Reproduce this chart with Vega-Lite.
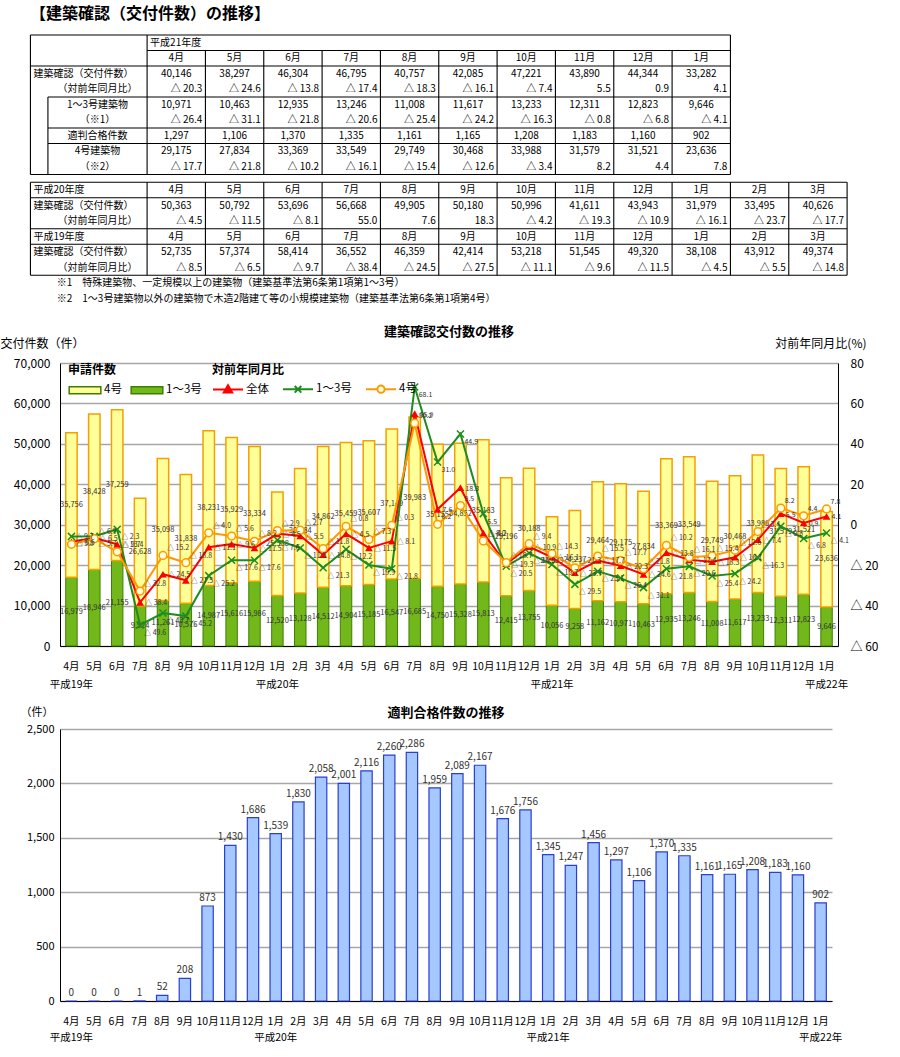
{
"$schema": "https://vega.github.io/schema/vega-lite/v6.json",
"background": "white",
"padding": {"left": 0, "top": 6, "right": 5, "bottom": 5},
"spacing": 16,
"resolve": {"scale": {"fill": "independent", "color": "independent"}, "legend": {"fill": "independent", "color": "independent"}},
"config": {"font": "Noto Sans CJK JP", "view": {"stroke": null}, "title": {"color": "black"}},
"datasets": {
"m": [
{"ym":"2007-04","total":52735,"v13":16979,"v4":35756,"全体":-8.5,"1～3号":-5.8,"4号":-9.7,"tek":0},
{"ym":"2007-05","total":57374,"v13":18946,"v4":38428,"全体":-6.5,"1～3号":-5.7,"4号":-6.9,"tek":0},
{"ym":"2007-06","total":58414,"v13":21155,"v4":37259,"全体":-9.7,"1～3号":-2.3,"4号":-13.4,"tek":0},
{"ym":"2007-07","total":36552,"v13":9924,"v4":26628,"全体":-38.4,"1～3号":-49.6,"4号":-32.8,"tek":1},
{"ym":"2007-08","total":46359,"v13":11261,"v4":35098,"全体":-24.5,"1～3号":-43.7,"4号":-15.2,"tek":52},
{"ym":"2007-09","total":42414,"v13":10576,"v4":31838,"全体":-27.5,"1～3号":-45.2,"4号":-18.8,"tek":208},
{"ym":"2007-10","total":53218,"v13":14987,"v4":38231,"全体":-11.1,"1～3号":-25.2,"4号":-4.0,"tek":873},
{"ym":"2007-11","total":51545,"v13":15616,"v4":35929,"全体":-9.6,"1～3号":-17.6,"4号":-5.6,"tek":1430},
{"ym":"2007-12","total":49320,"v13":15986,"v4":33334,"全体":-11.5,"1～3号":-17.6,"4号":-8.2,"tek":1686},
{"ym":"2008-01","total":38108,"v13":12520,"v4":25588,"全体":-4.5,"1～3号":-7.6,"4号":-2.9,"tek":1539},
{"ym":"2008-02","total":43912,"v13":13128,"v4":30784,"全体":-5.5,"1～3号":-11.5,"4号":-2.7,"tek":1830},
{"ym":"2008-03","total":49374,"v13":14512,"v4":34862,"全体":-14.8,"1～3号":-21.3,"4号":-11.8,"tek":2058},
{"ym":"2008-04","total":50363,"v13":14904,"v4":35459,"全体":-4.5,"1～3号":-12.2,"4号":-0.8,"tek":2001},
{"ym":"2008-05","total":50792,"v13":15185,"v4":35607,"全体":-11.5,"1～3号":-19.9,"4号":-7.3,"tek":2116},
{"ym":"2008-06","total":53696,"v13":16547,"v4":37149,"全体":-8.1,"1～3号":-21.8,"4号":-0.3,"tek":2260},
{"ym":"2008-07","total":56668,"v13":16685,"v4":39983,"全体":55.0,"1～3号":68.1,"4号":50.2,"tek":2286},
{"ym":"2008-08","total":49905,"v13":14750,"v4":35155,"全体":7.6,"1～3号":31.0,"4号":0.2,"tek":1959},
{"ym":"2008-09","total":50180,"v13":15328,"v4":34852,"全体":18.3,"1～3号":44.9,"4号":9.5,"tek":2089},
{"ym":"2008-10","total":50996,"v13":15813,"v4":35183,"全体":-4.2,"1～3号":5.5,"4号":-8.0,"tek":2167},
{"ym":"2008-11","total":41611,"v13":12415,"v4":29196,"全体":-19.3,"1～3号":-20.5,"4号":-18.7,"tek":1676},
{"ym":"2008-12","total":43943,"v13":13755,"v4":30188,"全体":-10.9,"1～3号":-14.0,"4号":-9.4,"tek":1756},
{"ym":"2009-01","total":31979,"v13":10056,"v4":21923,"全体":-16.1,"1～3号":-19.7,"4号":-14.3,"tek":1345},
{"ym":"2009-02","total":33495,"v13":9258,"v4":24237,"全体":-23.7,"1～3号":-29.5,"4号":-21.3,"tek":1247},
{"ym":"2009-03","total":40626,"v13":11162,"v4":29464,"全体":-17.7,"1～3号":-23.1,"4号":-15.5,"tek":1456},
{"ym":"2009-04","total":40146,"v13":10971,"v4":29175,"全体":-20.3,"1～3号":-26.4,"4号":-17.7,"tek":1297},
{"ym":"2009-05","total":38297,"v13":10463,"v4":27834,"全体":-24.6,"1～3号":-31.1,"4号":-21.8,"tek":1106},
{"ym":"2009-06","total":46304,"v13":12935,"v4":33369,"全体":-13.8,"1～3号":-21.8,"4号":-10.2,"tek":1370},
{"ym":"2009-07","total":46795,"v13":13246,"v4":33549,"全体":-17.4,"1～3号":-20.6,"4号":-16.1,"tek":1335},
{"ym":"2009-08","total":40757,"v13":11008,"v4":29749,"全体":-18.3,"1～3号":-25.4,"4号":-15.4,"tek":1161},
{"ym":"2009-09","total":42085,"v13":11617,"v4":30468,"全体":-16.1,"1～3号":-24.2,"4号":-12.6,"tek":1165},
{"ym":"2009-10","total":47221,"v13":13233,"v4":33988,"全体":-7.4,"1～3号":-16.3,"4号":-3.4,"tek":1208},
{"ym":"2009-11","total":43890,"v13":12311,"v4":31579,"全体":5.5,"1～3号":-0.8,"4号":8.2,"tek":1183},
{"ym":"2009-12","total":44344,"v13":12823,"v4":31521,"全体":0.9,"1～3号":-6.8,"4号":4.4,"tek":1160},
{"ym":"2010-01","total":33282,"v13":9646,"v4":23636,"全体":4.1,"1～3号":-4.1,"4号":7.8,"tek":902}
],
"cells": [
{"t":1,"line":0,"kind":"head","v":["平成21年度"]},
{"t":1,"line":1,"kind":"val","v":["4月","5月","6月","7月","8月","9月","10月","11月","12月","1月"]},
{"t":1,"line":2,"kind":"lab","v":["建築確認（交付件数）"]},
{"t":1,"line":2,"kind":"val","v":["40,146","38,297","46,304","46,795","40,757","42,085","47,221","43,890","44,344","33,282"]},
{"t":1,"line":3,"kind":"sub","v":["（対前年同月比）"]},
{"t":1,"line":3,"kind":"yoy","v":["△ 20.3","△ 24.6","△ 13.8","△ 17.4","△ 18.3","△ 16.1","△ 7.4","5.5","0.9","4.1"]},
{"t":1,"line":4,"kind":"sub","v":["1～3号建築物"]},
{"t":1,"line":4,"kind":"val","v":["10,971","10,463","12,935","13,246","11,008","11,617","13,233","12,311","12,823","9,646"]},
{"t":1,"line":5,"kind":"sub","v":["（※1）"]},
{"t":1,"line":5,"kind":"yoy","v":["△ 26.4","△ 31.1","△ 21.8","△ 20.6","△ 25.4","△ 24.2","△ 16.3","△ 0.8","△ 6.8","△ 4.1"]},
{"t":1,"line":6,"kind":"sub","v":["適判合格件数"]},
{"t":1,"line":6,"kind":"val","v":["1,297","1,106","1,370","1,335","1,161","1,165","1,208","1,183","1,160","902"]},
{"t":1,"line":7,"kind":"sub","v":["4号建築物"]},
{"t":1,"line":7,"kind":"val","v":["29,175","27,834","33,369","33,549","29,749","30,468","33,988","31,579","31,521","23,636"]},
{"t":1,"line":8,"kind":"sub","v":["（※2）"]},
{"t":1,"line":8,"kind":"yoy","v":["△ 17.7","△ 21.8","△ 10.2","△ 16.1","△ 15.4","△ 12.6","△ 3.4","8.2","4.4","7.8"]},
{"t":2,"line":0,"kind":"lab","v":["平成20年度"]},
{"t":2,"line":0,"kind":"val","v":["4月","5月","6月","7月","8月","9月","10月","11月","12月","1月","2月","3月"]},
{"t":2,"line":1,"kind":"lab","v":["建築確認（交付件数）"]},
{"t":2,"line":1,"kind":"val","v":["50,363","50,792","53,696","56,668","49,905","50,180","50,996","41,611","43,943","31,979","33,495","40,626"]},
{"t":2,"line":2,"kind":"sub","v":["（対前年同月比）"]},
{"t":2,"line":2,"kind":"yoy","v":["△ 4.5","△ 11.5","△ 8.1","55.0","7.6","18.3","△ 4.2","△ 19.3","△ 10.9","△ 16.1","△ 23.7","△ 17.7"]},
{"t":2,"line":3,"kind":"lab","v":["平成19年度"]},
{"t":2,"line":3,"kind":"val","v":["4月","5月","6月","7月","8月","9月","10月","11月","12月","1月","2月","3月"]},
{"t":2,"line":4,"kind":"lab","v":["建築確認（交付件数）"]},
{"t":2,"line":4,"kind":"val","v":["52,735","57,374","58,414","36,552","46,359","42,414","53,218","51,545","49,320","38,108","43,912","49,374"]},
{"t":2,"line":5,"kind":"sub","v":["（対前年同月比）"]},
{"t":2,"line":5,"kind":"yoy","v":["△ 8.5","△ 6.5","△ 9.7","△ 38.4","△ 24.5","△ 27.5","△ 11.1","△ 9.6","△ 11.5","△ 4.5","△ 5.5","△ 14.8"]},
{"t":2,"line":6,"kind":"note","v":["※1　特殊建築物、一定規模以上の建築物（建築基準法第6条第1項第1～3号）"]},
{"t":2,"line":7,"kind":"note","v":["※2　1～3号建築物以外の建築物で木造2階建て等の小規模建築物（建築基準法第6条第1項第4号）"]}
],
"rules": [
{"t":1,"x":-2,"x2":10,"y":0,"y2":0},
{"t":1,"x":0,"x2":10,"y":1,"y2":1},
{"t":1,"x":-2,"x2":10,"y":2,"y2":2},
{"t":1,"x":-1.7,"x2":10,"y":4,"y2":4},
{"t":1,"x":-1.7,"x2":10,"y":6,"y2":6},
{"t":1,"x":-1.7,"x2":10,"y":7,"y2":7},
{"t":1,"x":-2,"x2":10,"y":9,"y2":9},
{"t":1,"x":-2,"x2":-2,"y":0,"y2":9},
{"t":1,"x":0,"x2":0,"y":0,"y2":9},
{"t":1,"x":-1.7,"x2":-1.7,"y":4,"y2":9},
{"t":1,"x":1,"x2":1,"y":1,"y2":9},
{"t":1,"x":2,"x2":2,"y":1,"y2":9},
{"t":1,"x":3,"x2":3,"y":1,"y2":9},
{"t":1,"x":4,"x2":4,"y":1,"y2":9},
{"t":1,"x":5,"x2":5,"y":1,"y2":9},
{"t":1,"x":6,"x2":6,"y":1,"y2":9},
{"t":1,"x":7,"x2":7,"y":1,"y2":9},
{"t":1,"x":8,"x2":8,"y":1,"y2":9},
{"t":1,"x":9,"x2":9,"y":1,"y2":9},
{"t":1,"x":10,"x2":10,"y":0,"y2":9},
{"t":2,"x":-2,"x2":12,"y":0,"y2":0},
{"t":2,"x":-2,"x2":12,"y":1,"y2":1},
{"t":2,"x":-2,"x2":12,"y":3,"y2":3},
{"t":2,"x":-2,"x2":12,"y":4,"y2":4},
{"t":2,"x":-2,"x2":12,"y":6,"y2":6},
{"t":2,"x":-2,"x2":-2,"y":0,"y2":6},
{"t":2,"x":0,"x2":0,"y":0,"y2":6},
{"t":2,"x":1,"x2":1,"y":0,"y2":6},
{"t":2,"x":2,"x2":2,"y":0,"y2":6},
{"t":2,"x":3,"x2":3,"y":0,"y2":6},
{"t":2,"x":4,"x2":4,"y":0,"y2":6},
{"t":2,"x":5,"x2":5,"y":0,"y2":6},
{"t":2,"x":6,"x2":6,"y":0,"y2":6},
{"t":2,"x":7,"x2":7,"y":0,"y2":6},
{"t":2,"x":8,"x2":8,"y":0,"y2":6},
{"t":2,"x":9,"x2":9,"y":0,"y2":6},
{"t":2,"x":10,"x2":10,"y":0,"y2":6},
{"t":2,"x":11,"x2":11,"y":0,"y2":6},
{"t":2,"x":12,"x2":12,"y":0,"y2":6}
]
},
"vconcat": [
{
"width": 787.1, "height": 274.35,
"title": {"text": "【建築確認（交付件数）の推移】", "anchor": "start", "frame": "group", "dx": -30, "fontSize": 16, "fontWeight": "bold", "offset": 12},
"encoding": {
"x": {"field": "xx", "type": "quantitative", "scale": {"domain": [-1.493, 12], "nice": false, "zero": false}, "axis": null},
"y": {"field": "yy", "type": "quantitative", "scale": {"domain": [0, 17.7], "nice": false, "zero": false, "reverse": true}, "axis": null}
},
"layer": [
{
"data": {"name": "rules"},
"transform": [
{"calculate": "datum.x", "as": "xx"},
{"calculate": "datum.x2", "as": "xx2"},
{"calculate": "datum.y + (datum.t == 2 ? 9.5 : 0)", "as": "yy"},
{"calculate": "datum.y2 + (datum.t == 2 ? 9.5 : 0)", "as": "yy2"}
],
"mark": {"type": "rule", "color": "black", "strokeWidth": 1.1},
"encoding": {"x2": {"field": "xx2"}, "y2": {"field": "yy2"}}
},
{
"data": {"name": "cells"},
"transform": [
{"flatten": ["v"], "as": ["txt"]},
{"window": [{"op": "row_number", "as": "n"}], "groupby": ["t", "line", "kind"]},
{"calculate": "datum.line + 0.5 + (datum.t == 2 ? 9.5 : 0)", "as": "yy"},
{"calculate": "datum.kind == 'val' ? datum.n - 0.5 : datum.kind == 'yoy' ? datum.n : datum.kind == 'head' ? 0 : datum.kind == 'lab' ? -2 : datum.kind == 'sub' ? -0.85 : -1.6", "as": "xx"}
],
"layer": [
{"transform": [{"filter": "datum.kind == 'val' || datum.kind == 'sub'"}],
 "mark": {"type": "text", "align": "center", "baseline": "middle", "fontSize": 10, "color": "black"},
 "encoding": {"text": {"field": "txt"}}},
{"transform": [{"filter": "datum.kind == 'yoy'"}],
 "mark": {"type": "text", "align": "right", "baseline": "middle", "dx": -3, "fontSize": 10, "color": "black"},
 "encoding": {"text": {"field": "txt"}}},
{"transform": [{"filter": "datum.kind == 'head' || datum.kind == 'lab' || datum.kind == 'note'"}],
 "mark": {"type": "text", "align": "left", "baseline": "middle", "dx": 3, "fontSize": 10, "color": "black"},
 "encoding": {"text": {"field": "txt"}}}
]
}
]
},
{
"width": 778, "height": 283,
"title": {"text": "建築確認交付数の推移", "fontSize": 13, "fontWeight": "bold", "offset": -2},
"data": {"name": "m"},
"layer": [
{
"layer": [
{"mark": {"type": "bar", "width": {"band": 0.5}, "stroke": "#3F7F00", "strokeWidth": 1},
 "encoding": {
 "x": {"field": "ym", "type": "ordinal", "title": null, "scale": {"paddingInner": 0, "paddingOuter": 0},
   "axis": {"labelAngle": 0, "ticks": false, "labelPadding": 15, "labelFontSize": 10.5, "labelLineHeight": 18, "labelColor": "black", "domainColor": "black", "labelOverlap": false,
   "labelExpr": "[toNumber(slice(datum.value,5)) + '月', datum.value == '2007-04' ? '平成19年' : slice(datum.value,5) == '01' ? '平成' + (toNumber(slice(datum.value,0,4)) - 1988) + '年' : '']"}},
 "y": {"field": "v13", "type": "quantitative", "title": "交付件数（件）", "scale": {"domain": [0, 70000], "nice": false},
   "axis": {"values": [0,10000,20000,30000,40000,50000,60000,70000], "labelExpr": "format(datum.value, ',d')", "grid": true, "gridColor": "#A6A6A6", "gridWidth": 1.5, "domainColor": "black", "ticks": false, "labelPadding": 10, "labelFontSize": 12, "labelColor": "black",
   "titleAngle": 0, "titleAlign": "left", "titleBaseline": "middle", "titleX": -60, "titleY": -20, "titleFontSize": 12, "titleFontWeight": "normal", "titleColor": "black"}},
 "fill": {"datum": "1～3号", "type": "nominal", "scale": {"domain": ["4号", "1～3号"], "range": ["#FFFF99", "#72B81A"]},
   "legend": {"title": "申請件数", "orient": "none", "legendX": 8, "legendY": 2, "direction": "horizontal", "symbolType": "M-1,-0.22H1V0.22H-1Z", "symbolSize": 1000, "symbolStrokeWidth": 1.5, "labelFontSize": 11.5, "labelColor": "black", "titleFontSize": 12, "titleFontWeight": "bold", "titleColor": "black", "titlePadding": -4, "columnPadding": 6, "labelOffset": 2,
   "encode": {"symbols": {"update": {"stroke": {"signal": "datum.value === '4号' ? '#F5A000' : '#3F7F00'"}}}}}}
 }},
{"mark": {"type": "bar", "width": {"band": 0.5}, "stroke": "#F5A000", "strokeWidth": 1.5},
 "encoding": {
 "x": {"field": "ym", "type": "ordinal", "title": null, "scale": {"paddingInner": 0, "paddingOuter": 0}},
 "y": {"field": "v13", "type": "quantitative", "title": "交付件数（件）", "scale": {"domain": [0, 70000], "nice": false}},
 "y2": {"field": "total"},
 "fill": {"datum": "4号", "type": "nominal", "scale": {"domain": ["4号", "1～3号"], "range": ["#FFFF99", "#72B81A"]}}
 }},
{"transform": [{"calculate": "datum.v13 + datum.v4 / 2", "as": "m4"}],
 "mark": {"type": "text", "fontSize": 7.5, "color": "#333333"},
 "encoding": {
 "x": {"field": "ym", "type": "ordinal", "title": null, "scale": {"paddingInner": 0, "paddingOuter": 0}},
 "y": {"field": "m4", "type": "quantitative", "title": "交付件数（件）", "scale": {"domain": [0, 70000], "nice": false}},
 "text": {"field": "v4", "format": ","}
 }},
{"transform": [{"calculate": "datum.v13 / 2", "as": "m13"}],
 "mark": {"type": "text", "fontSize": 7.5, "color": "#333333"},
 "encoding": {
 "x": {"field": "ym", "type": "ordinal", "title": null, "scale": {"paddingInner": 0, "paddingOuter": 0}},
 "y": {"field": "m13", "type": "quantitative", "title": "交付件数（件）", "scale": {"domain": [0, 70000], "nice": false}},
 "text": {"field": "v13", "format": ","}
 }}
]
},
{
"transform": [
{"fold": ["全体", "1～3号", "4号"], "as": ["ser", "yoy"]},
{"calculate": "datum.yoy < 0 ? '△ ' + format(-datum.yoy, '.1f') : format(datum.yoy, '.1f')", "as": "lbl"}
],
"layer": [
{"mark": {"type": "line", "strokeWidth": 2},
 "encoding": {
 "x": {"field": "ym", "type": "ordinal", "title": null, "scale": {"paddingInner": 0, "paddingOuter": 0}},
 "y": {"field": "yoy", "type": "quantitative", "title": "対前年同月比(%)", "scale": {"domain": [-60, 80], "nice": false},
   "axis": {"orient": "right", "values": [-60,-40,-20,0,20,40,60,80], "labelExpr": "datum.value < 0 ? '△ ' + (-datum.value) : datum.label", "grid": false, "domainColor": "black", "ticks": false, "labelPadding": 12, "labelFontSize": 12, "labelColor": "black",
   "titleAngle": 0, "titleAlign": "right", "titleBaseline": "middle", "titleX": 28, "titleY": -20, "titleFontSize": 12, "titleFontWeight": "normal", "titleColor": "black"}},
 "color": {"field": "ser", "type": "nominal", "scale": {"domain": ["全体", "1～3号", "4号"], "range": ["#FF0000", "#1E8C1E", "#FF9900"]},
   "legend": {"title": "対前年同月比", "orient": "none", "legendX": 152, "legendY": 2, "direction": "horizontal", "symbolSize": 900, "symbolStrokeWidth": 2, "labelFontSize": 11.5, "labelColor": "black", "titleFontSize": 12, "titleFontWeight": "bold", "titleColor": "black", "titlePadding": -4, "columnPadding": 10, "labelOffset": 2,
   "encode": {"symbols": {"update": {
     "shape": {"signal": "datum.value === '全体' ? 'M-1,0H1M0,-0.28L0.28,0.2L-0.28,0.2Z' : datum.value === '4号' ? 'M-1,0H-0.24M0.24,0H1M0.24,0A0.24,0.24,0,1,1,-0.24,0A0.24,0.24,0,1,1,0.24,0' : 'M-1,0H1M-0.22,-0.22L0.22,0.22M-0.22,0.22L0.22,-0.22'"},
     "fill": {"signal": "datum.value === '全体' ? '#FF0000' : datum.value === '4号' ? '#FFFFDD' : 'transparent'"}}}}}}
 }},
{"transform": [{"filter": "datum.ser == '全体'"}],
 "mark": {"type": "point", "shape": "triangle-up", "filled": true, "color": "#FF0000", "size": 60, "opacity": 1},
 "encoding": {
 "x": {"field": "ym", "type": "ordinal", "title": null, "scale": {"paddingInner": 0, "paddingOuter": 0}},
 "y": {"field": "yoy", "type": "quantitative", "title": "対前年同月比(%)", "scale": {"domain": [-60, 80], "nice": false}}
 }},
{"transform": [{"filter": "datum.ser == '1～3号'"}],
 "mark": {"type": "point", "shape": "M-1,-1L1,1M-1,1L1,-1", "filled": false, "color": "#1E8C1E", "strokeWidth": 1.5, "size": 50, "opacity": 1},
 "encoding": {
 "x": {"field": "ym", "type": "ordinal", "title": null, "scale": {"paddingInner": 0, "paddingOuter": 0}},
 "y": {"field": "yoy", "type": "quantitative", "title": "対前年同月比(%)", "scale": {"domain": [-60, 80], "nice": false}}
 }},
{"transform": [{"filter": "datum.ser == '4号'"}],
 "mark": {"type": "point", "shape": "circle", "filled": true, "fill": "#FFFFDD", "stroke": "#FF9900", "strokeWidth": 1.5, "size": 60, "opacity": 1},
 "encoding": {
 "x": {"field": "ym", "type": "ordinal", "title": null, "scale": {"paddingInner": 0, "paddingOuter": 0}},
 "y": {"field": "yoy", "type": "quantitative", "title": "対前年同月比(%)", "scale": {"domain": [-60, 80], "nice": false}}
 }},
{"transform": [{"filter": "datum.ser == '全体'"}],
 "mark": {"type": "text", "fontSize": 7, "align": "left", "baseline": "middle", "dx": 5, "dy": 1, "color": "#333333"},
 "encoding": {
 "x": {"field": "ym", "type": "ordinal", "title": null, "scale": {"paddingInner": 0, "paddingOuter": 0}},
 "y": {"field": "yoy", "type": "quantitative", "title": "対前年同月比(%)", "scale": {"domain": [-60, 80], "nice": false}},
 "text": {"field": "lbl"}
 }},
{"transform": [{"filter": "datum.ser == '1～3号'"}],
 "mark": {"type": "text", "fontSize": 7, "align": "left", "baseline": "middle", "dx": 4, "dy": 8, "color": "#333333"},
 "encoding": {
 "x": {"field": "ym", "type": "ordinal", "title": null, "scale": {"paddingInner": 0, "paddingOuter": 0}},
 "y": {"field": "yoy", "type": "quantitative", "title": "対前年同月比(%)", "scale": {"domain": [-60, 80], "nice": false}},
 "text": {"field": "lbl"}
 }},
{"transform": [{"filter": "datum.ser == '4号'"}],
 "mark": {"type": "text", "fontSize": 7, "align": "left", "baseline": "middle", "dx": 4, "dy": -7, "color": "#333333"},
 "encoding": {
 "x": {"field": "ym", "type": "ordinal", "title": null, "scale": {"paddingInner": 0, "paddingOuter": 0}},
 "y": {"field": "yoy", "type": "quantitative", "title": "対前年同月比(%)", "scale": {"domain": [-60, 80], "nice": false}},
 "text": {"field": "lbl"}
 }}
]
}
],
"resolve": {"scale": {"y": "independent"}}
},
{
"width": 772, "height": 272,
"title": {"text": "適判合格件数の推移", "fontSize": 13, "fontWeight": "bold", "offset": -14},
"data": {"name": "m"},
"layer": [
{"mark": {"type": "bar", "width": {"band": 0.5}, "fill": "#A4C8FF", "stroke": "#2B3FD0", "strokeWidth": 1.2},
 "encoding": {
 "x": {"field": "ym", "type": "ordinal", "title": null, "scale": {"paddingInner": 0, "paddingOuter": 0},
   "axis": {"labelAngle": 0, "ticks": false, "labelPadding": 15, "labelFontSize": 10.5, "labelLineHeight": 16, "labelColor": "black", "domainColor": "black", "labelOverlap": false,
   "labelExpr": "[toNumber(slice(datum.value,5)) + '月', datum.value == '2007-04' ? '平成19年' : slice(datum.value,5) == '01' ? '平成' + (toNumber(slice(datum.value,0,4)) - 1988) + '年' : '']"}},
 "y": {"field": "tek", "type": "quantitative", "title": "（件）", "scale": {"domain": [0, 2500], "nice": false},
   "axis": {"values": [0,500,1000,1500,2000,2500], "labelExpr": "format(datum.value, ',d')", "grid": true, "gridColor": "#A6A6A6", "gridWidth": 1.5, "domainColor": "black", "ticks": false, "labelPadding": 6, "labelFontSize": 11, "labelColor": "black",
   "titleAngle": 0, "titleAlign": "left", "titleBaseline": "middle", "titleX": -40, "titleY": -17, "titleFontSize": 11, "titleFontWeight": "normal", "titleColor": "black"}}
 }},
{"mark": {"type": "text", "dy": -8, "fontSize": 10, "color": "#333333"},
 "encoding": {
 "x": {"field": "ym", "type": "ordinal", "title": null, "scale": {"paddingInner": 0, "paddingOuter": 0}},
 "y": {"field": "tek", "type": "quantitative", "title": "（件）", "scale": {"domain": [0, 2500], "nice": false}},
 "text": {"field": "tek", "format": ","}
 }}
]
}
]
}
